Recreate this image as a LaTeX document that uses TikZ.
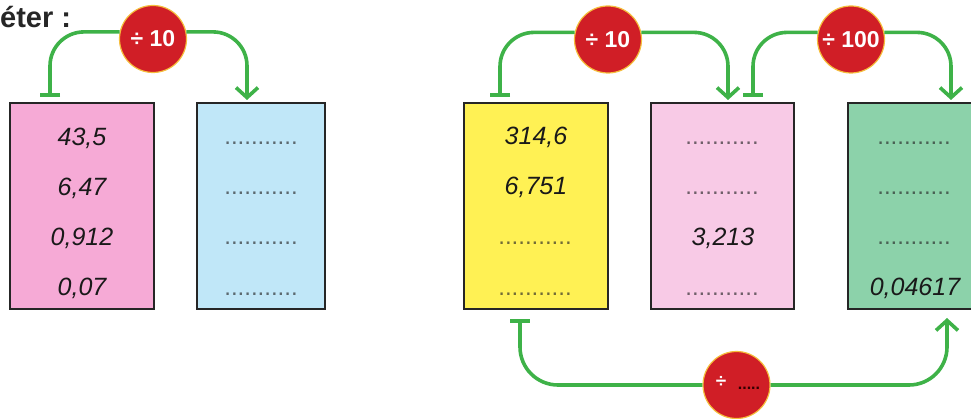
\documentclass[tikz,border=0pt]{standalone}
\usepackage{fontspec}
\setmainfont{Liberation Sans}
\usetikzlibrary{arrows.meta}
\definecolor{linkgreen}{RGB}{62,178,72}
\definecolor{opred}{RGB}{208,30,38}
\definecolor{opgold}{RGB}{245,190,60}
\definecolor{pinkA}{RGB}{246,170,214}
\definecolor{blueA}{RGB}{192,231,248}
\definecolor{yellowA}{RGB}{255,241,84}
\definecolor{pinkB}{RGB}{248,202,230}
\definecolor{greenA}{RGB}{140,210,170}
\begin{document}
\begin{tikzpicture}[x=1pt,y=-1pt,
  valbox/.style={draw=black!85, line width=1.4pt, inner sep=0pt, outer sep=0pt, minimum height=206pt},
  num/.style={font=\fontsize{25}{25}\selectfont\itshape, text=black!90, anchor=base, inner sep=0pt},
  dotrow/.style={font=\fontsize{24}{24}\selectfont, text=black!85, text opacity=0.65, anchor=base, inner sep=0pt},
  op/.style={circle, fill=opred, draw=opgold, line width=1.2pt, minimum size=67pt, inner sep=0pt, text=white, font=\fontsize{23}{23}\selectfont\bfseries},
  link/.style={draw=linkgreen, line width=3.6pt, rounded corners=34pt},
  arrowv/.style={-{Straight Barb[length=10pt,width=22pt]}},
  tbar/.style={-{Bar[width=20pt]}}]
\useasboundingbox (0,0) rectangle (971,419);

% title fragment
\node[font=\fontsize{29}{29}\selectfont\bfseries, text=black!85, anchor=base west, inner sep=0pt] (title) at (0,28) {éter :};

% boxes
\node[valbox, fill=pinkA, minimum width=144pt] (b1) at (82,206) {};
\node[valbox, fill=blueA, minimum width=128pt] (b2) at (261,206) {};
\node[valbox, fill=yellowA, minimum width=144pt] (b3) at (536,206) {};
\node[valbox, fill=pinkB, minimum width=143pt] (b4) at (722.5,206) {};
\node[valbox, fill=greenA, minimum width=144pt] (b5) at (920,206) {};

% box 1
\node[num] (n11) at (82,146) {43,5};
\node[num] (n12) at (82,196) {6,47};
\node[num] (n13) at (82,246) {0,912};
\node[num] (n14) at (82,296) {0,07};
% box 2
\node[dotrow] (d21) at (261,145) {...........};
\node[dotrow] (d22) at (261,195) {...........};
\node[dotrow] (d23) at (261,245) {...........};
\node[dotrow] (d24) at (261,296) {...........};
% box 3
\node[num] (n31) at (536,145) {314,6};
\node[num] (n32) at (536,195) {6,751};
\node[dotrow] (d33) at (535,245) {...........};
\node[dotrow] (d34) at (535,296) {...........};
% box 4
\node[dotrow] (d41) at (722,145) {...........};
\node[dotrow] (d42) at (722,195) {...........};
\node[num] (n43) at (723,246) {3,213};
\node[dotrow] (d44) at (722,296) {...........};
% box 5
\node[dotrow] (d51) at (914,145) {...........};
\node[dotrow] (d52) at (914,195) {...........};
\node[dotrow] (d53) at (914,245) {...........};
\node[num] (n54) at (915,296) {0,04617};

% operator circles
\node[op] (c1) at (153,39) {÷ 10};
\node[op] (c2) at (608,39.5) {÷ 10};
\node[op] (c3) at (851,39.5) {÷ 100};
\node[op] (c4) at (736.5,385) {};
\node[font=\fontsize{19}{19}\selectfont\bfseries, text=white, inner sep=0pt] (c4s) at (721,382) {÷};
\node[font=\fontsize{16}{16}\selectfont\bfseries, text=black!80!red, anchor=base, inner sep=0pt] (c4d) at (749,389) {.....};

% end points
\coordinate (e1) at (50,97);
\coordinate (f1) at (247,100);
\coordinate (e2) at (500,97);
\coordinate (f2) at (728,100);
\coordinate (e3) at (753,97);
\coordinate (f3) at (951,100);
\coordinate (e4) at (520,319);
\coordinate (f4) at (947,318);

% connectors
\draw[link, tbar] (c1.168) -| (e1);
\draw[link, arrowv] (c1.12) -| (f1);
\draw[link, tbar] (c2.168) -| (e2);
\draw[link, arrowv] (c2.12) -| (f2);
\draw[link, tbar] (c3.168) -| (e3);
\draw[link, arrowv] (c3.12) -| (f3);
\draw[link, tbar, rounded corners=38pt] (c4.west) -| (e4);
\draw[link, arrowv, rounded corners=38pt] (c4.east) -| (f4);
\end{tikzpicture}
\end{document}
